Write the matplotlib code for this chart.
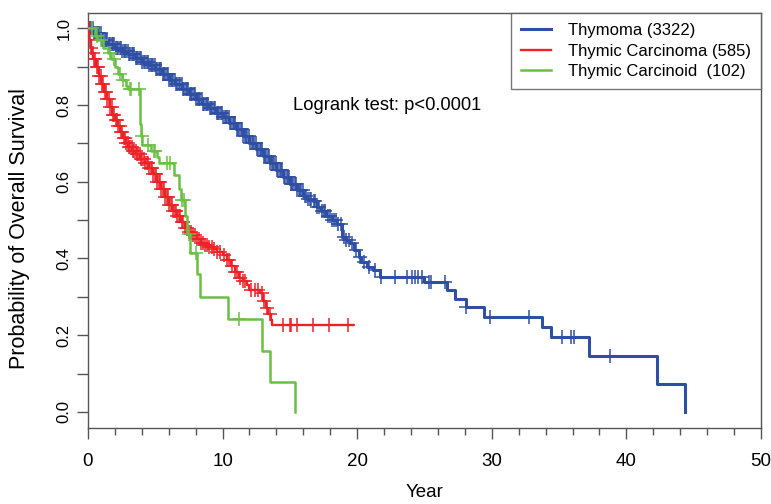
import numpy as np
import matplotlib.pyplot as plt
from matplotlib.ticker import MultipleLocator

plt.rcParams['font.family'] = ['Liberation Sans', 'DejaVu Sans']

# Kaplan-Meier step points (time in years, survival)
thymoma_t = [0, 0.4, 1.0, 1.5, 2.0, 2.5, 3.0, 3.5, 4.0, 4.5, 5.0, 5.5, 6.0, 6.5, 7.0,
             7.5, 8.0, 8.5, 9.0, 9.5, 10.0, 10.5, 11.0, 11.5, 12.0, 12.5, 13.0, 13.5,
             14.0, 14.5, 15.0, 15.5, 16.0, 16.3, 16.7, 17.0, 17.3, 17.7, 18.1, 18.5,
             18.85, 19.2, 19.5, 19.8, 20.1, 20.3, 20.7, 21.2, 21.7, 25.0, 26.7, 27.3,
             28.1, 29.4, 33.7, 34.4, 37.2, 42.3, 44.35]
thymoma_s = [1.0, 0.987, 0.97, 0.96, 0.95, 0.942, 0.932, 0.922, 0.913, 0.905, 0.893,
             0.88, 0.866, 0.855, 0.843, 0.83, 0.815, 0.803, 0.793, 0.78, 0.768, 0.753,
             0.737, 0.72, 0.702, 0.685, 0.667, 0.648, 0.63, 0.612, 0.595, 0.578, 0.562,
             0.556, 0.55, 0.535, 0.524, 0.51, 0.5, 0.49, 0.455, 0.448, 0.44, 0.422,
             0.404, 0.39, 0.378, 0.37, 0.352, 0.339, 0.318, 0.294, 0.273, 0.248, 0.222,
             0.194, 0.146, 0.073, 0.0]
# censored times (the "+" marks); very dense in the first 16 years
thymoma_cens = [
    0.05, 0.15, 0.25, 0.35, 0.45, 0.55, 0.65, 0.75, 0.85, 0.95,
    1.05, 1.15, 1.25, 1.35, 1.45, 1.55, 1.65, 1.75, 1.85, 1.95,
    2.05, 2.15, 2.25, 2.35, 2.45, 2.55, 2.65, 2.75, 2.85, 2.95,
    3.05, 3.15, 3.25, 3.35, 3.45, 3.55, 3.65, 3.75, 3.85, 3.95,
    4.05, 4.15, 4.25, 4.35, 4.45, 4.55, 4.65, 4.75, 4.85, 4.95,
    5.05, 5.15, 5.25, 5.35, 5.45, 5.55, 5.65, 5.75, 5.85, 5.95,
    6.05, 6.15, 6.25, 6.35, 6.45, 6.55, 6.65, 6.75, 6.85, 6.95,
    7.05, 7.15, 7.25, 7.35, 7.45, 7.55, 7.65, 7.75, 7.85, 7.95,
    8.05, 8.15, 8.25, 8.35, 8.45, 8.55, 8.65, 8.75, 8.85, 8.95,
    9.05, 9.15, 9.25, 9.35, 9.45, 9.55, 9.65, 9.75, 9.85, 9.95,
    10.05, 10.15, 10.25, 10.35, 10.45, 10.55, 10.65, 10.75, 10.85, 10.95,
    11.05, 11.15, 11.25, 11.35, 11.45, 11.55, 11.65, 11.75, 11.85, 11.95,
    12.05, 12.15, 12.25, 12.35, 12.45, 12.55, 12.65, 12.75, 12.85, 12.95,
    13.05, 13.15, 13.25, 13.35, 13.45, 13.55, 13.65, 13.75, 13.85, 13.95,
    14.05, 14.15, 14.25, 14.35, 14.45, 14.55, 14.65, 14.75, 14.85, 14.95,
    15.05, 15.15, 15.25, 15.35, 15.45, 15.55, 15.65, 15.75, 15.85, 15.95,
    16.1, 16.2, 16.35, 16.5, 16.6, 16.8, 16.9, 17.05, 17.2, 17.35, 17.5, 17.6,
    17.8, 17.95, 18.1, 18.25, 18.4, 18.6, 18.8, 19.0, 19.2, 19.4, 19.6, 19.9,
    20.2, 20.5, 20.9, 21.3, 21.8, 22.8, 23.7, 24.05, 24.3, 24.5, 24.8, 25.3,
    25.5, 26.5, 28.1, 29.9, 32.8, 35.2, 35.9, 36.1, 38.8]

carcinoma_t = [0, 0.1, 0.2, 0.3, 0.4, 0.6, 0.8, 1.0, 1.2, 1.4, 1.6, 1.8, 2.0, 2.2, 2.4,
               2.6, 2.8, 3.0, 3.3, 3.6, 3.9, 4.2, 4.5, 4.8, 5.1, 5.4, 5.7, 6.0, 6.3, 6.6,
               6.9, 7.2, 7.5, 7.8, 8.1, 8.4, 8.7, 9.0, 9.3, 9.6, 10.0, 10.3, 10.6, 10.9,
               11.2, 11.5, 11.8, 12.0, 12.8, 13.0, 13.2, 13.4, 13.6, 13.7, 19.7]
carcinoma_s = [1.0, 0.97, 0.95, 0.935, 0.92, 0.9, 0.875, 0.855, 0.835, 0.815, 0.795,
               0.775, 0.76, 0.745, 0.73, 0.715, 0.70, 0.69, 0.68, 0.672, 0.66, 0.65,
               0.635, 0.62, 0.60, 0.58, 0.56, 0.54, 0.525, 0.51, 0.495, 0.48, 0.47, 0.46,
               0.45, 0.44, 0.435, 0.43, 0.425, 0.418, 0.41, 0.395, 0.38, 0.365, 0.35,
               0.34, 0.33, 0.318, 0.31, 0.29, 0.27, 0.255, 0.24, 0.227, 0.227]
carcinoma_cens = [
    0.05, 0.15, 0.25, 0.35, 0.45, 0.55, 0.65, 0.75, 0.85, 0.95,
    1.05, 1.15, 1.25, 1.35, 1.45, 1.55, 1.65, 1.75, 1.85, 1.95,
    2.05, 2.15, 2.25, 2.35, 2.45, 2.55, 2.65, 2.75, 2.85, 2.95,
    3.05, 3.15, 3.25, 3.35, 3.45, 3.55, 3.65, 3.75, 3.85, 3.95,
    4.05, 4.15, 4.25, 4.35, 4.45, 4.55, 4.65, 4.75, 4.85, 4.95,
    5.05, 5.15, 5.25, 5.35, 5.45, 5.55, 5.65, 5.75, 5.85, 5.95,
    6.05, 6.15, 6.25, 6.35, 6.45, 6.55, 6.65, 6.75, 6.85, 6.95,
    7.05, 7.2, 7.35, 7.5, 7.65, 7.8, 7.95, 8.1, 8.25, 8.4, 8.55, 8.7,
    8.85, 9.0, 9.2, 9.4, 9.6, 9.8, 10.1, 10.3, 10.5, 10.7, 10.9, 11.1,
    11.3, 11.5, 11.7, 12.1, 12.4, 12.6, 12.9, 13.1, 13.3, 13.5,
    14.5, 15.0, 15.1, 15.5, 16.7, 17.9, 19.3]

carcinoid_t = [0, 0.5, 0.7, 1.1, 1.5, 1.7, 2.0, 2.2, 2.5, 2.8, 3.0, 3.85, 3.9, 3.95,
               4.05, 4.7, 5.1, 5.25, 6.4, 6.8, 6.9, 7.2, 7.35, 7.6, 8.1, 8.3, 10.4, 12.9,
               13.5, 15.4]
carcinoid_s = [1.0, 0.98, 0.97, 0.95, 0.935, 0.92, 0.90, 0.88, 0.865, 0.85, 0.843, 0.80,
               0.75, 0.72, 0.695, 0.68, 0.665, 0.648, 0.617, 0.58, 0.552, 0.51, 0.465,
               0.413, 0.36, 0.30, 0.241, 0.159, 0.079, 0.0]
carcinoid_cens = [0.27, 0.64, 1.0, 1.63, 1.9, 2.38, 2.6, 3.1, 3.2, 3.8, 3.99, 4.45, 4.9,
                  5.0, 5.85, 6.1, 7.0, 7.1, 7.5, 8.05, 11.2]

groups = [
    ("Thymoma (3322)", thymoma_t, thymoma_s, thymoma_cens, "#2f4fa4", 2.2),
    ("Thymic Carcinoma (585)", carcinoma_t, carcinoma_s, carcinoma_cens, "#ec2227", 1.7),
    ("Thymic Carcinoid  (102)", carcinoid_t, carcinoid_s, carcinoid_cens, "#6abf45", 1.8),
]

fig = plt.figure(figsize=(7.71, 5.04), dpi=100)
ax = fig.add_axes([0.1141, 0.1508, 0.8729, 0.8234])

for label, t, s, cens, col, lw in groups:
    t = np.array(t)
    s = np.array(s)
    ax.step(t, s, where='post', color=col, lw=lw, label=label, zorder=3)
    c = np.array(cens)
    cy = s[np.searchsorted(t, c, side='right') - 1]
    ax.plot(c, cy, ls='none', marker='+', ms=10, mew=1.1, color=col, zorder=3)

ax.set_xlim(0, 50)
ax.set_ylim(-0.042, 1.04)
ax.xaxis.set_major_locator(MultipleLocator(10))
ax.xaxis.set_minor_locator(MultipleLocator(2))
ax.yaxis.set_minor_locator(MultipleLocator(0.1))
ax.set_yticks([0, 0.2, 0.4, 0.6, 0.8, 1.0])
ax.set_yticklabels(["0.0", "0.2", "0.4", "0.6", "0.8", "1.0"], rotation=90, va='center')

gray = "#555555"
for sp in ax.spines.values():
    sp.set_color(gray)
    sp.set_linewidth(1.0)
ax.tick_params(axis='x', which='major', length=8, width=1, color=gray, labelsize=13.5, pad=10)
ax.tick_params(axis='x', which='minor', length=5, width=1, color=gray)
ax.tick_params(axis='y', which='major', length=8, width=1, color=gray, labelsize=12, pad=4)
ax.tick_params(axis='y', which='minor', length=8, width=1, color=gray)

ax.set_xlabel("Year", fontsize=13.5, labelpad=10)
ax.set_ylabel("Probability of Overall Survival", fontsize=15.5)
ax.yaxis.set_label_coords(-0.086, 0.48)

ax.text(15.2, 0.80, "Logrank test: p<0.0001", fontsize=13.2, va='center')

leg = ax.legend(loc='upper right', bbox_to_anchor=(1, 1), borderaxespad=0, fontsize=12,
                frameon=True, fancybox=False, handlelength=1.8, handletextpad=1.0,
                labelspacing=0.33, borderpad=0.6)
leg.get_frame().set_edgecolor(gray)
leg.get_frame().set_linewidth(1.0)

plt.savefig("out.png", dpi=100)
